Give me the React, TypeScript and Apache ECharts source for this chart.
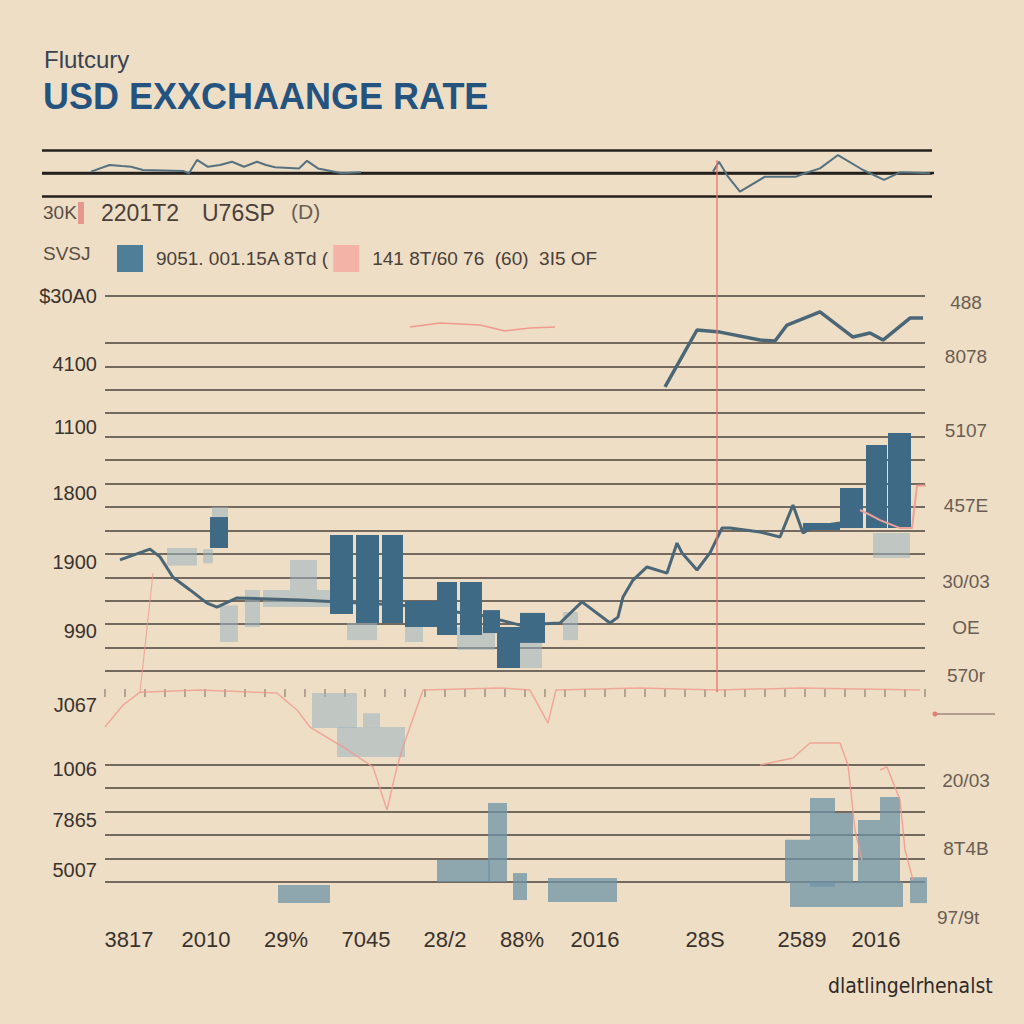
import React, { useEffect, useRef } from "react";
import * as echarts from "echarts";

// ---------- texts ----------
const titleSmall = "Flutcury";
const titleMain = "USD EXXCHAANGE RATE";
const row1Texts = ["30K", "2201T2", "U76SP", "(D)"];
const row2Prefix = "SVSJ";
const seriesNames = ["9051. 001.15A 8Td (", "141 8T/60 76  (60)  3I5 OF"];
const footerText = "dlatlingelrhenalst";
const extraRightLabel = "97/9t";

// ---------- axis ticks ----------
const leftTickValues = [25, 22.1, 19.4, 16.6, 13.65, 10.7, 7.55, 4.8, 2.65, 0.5];
const leftTickLabels = ["$30A0", "4100", "1100", "1800", "1900", "990", "J067", "1006", "7865", "5007"];
const rightTickValues = [24.74, 22.4, 19.28, 16.08, 12.8, 10.84, 8.79, 4.35, 1.45];
const rightTickLabels = ["488", "8078", "5107", "457E", "30/03", "OE", "570r", "20/03", "8T4B"];
const xTickValues = [2.4, 10.1, 18.1, 26.1, 34.0, 41.7, 49.0, 60.0, 69.7, 77.1];
const xTickLabels = ["3817", "2010", "29%", "7045", "28/2", "88%", "2016", "28S", "2589", "2016"];
const hiddenGridLevels = [6, 7, 8, 24];

// ---------- data : boxes [xStart, xEnd, low, high] ----------
const darkBoxes = [
  [10.5, 12.3, 14.25, 15.57],
  [22.5, 24.8, 11.43, 14.8],
  [25.1, 27.4, 11.05, 14.8],
  [27.7, 29.8, 11.05, 14.8],
  [30.0, 33.2, 10.88, 11.99],
  [33.2, 35.2, 10.54, 12.8],
  [35.5, 37.7, 10.54, 12.8],
  [37.8, 39.5, 10.62, 11.6],
  [39.2, 41.5, 9.13, 10.88],
  [41.5, 44.0, 10.2, 11.48],
  [69.8, 73.5, 15.02, 15.32],
  [73.5, 75.8, 15.1, 16.81],
  [76.1, 78.2, 15.1, 18.64],
  [78.3, 80.6, 15.1, 19.15],
];
const lightBoxes = [
  [6.2, 9.2, 13.5, 14.25],
  [9.8, 10.8, 13.6, 14.2],
  [10.7, 12.3, 15.57, 16.0],
  [11.5, 13.3, 10.24, 11.8],
  [14.0, 15.5, 10.88, 12.46],
  [15.8, 22.5, 11.73, 12.46],
  [18.5, 21.2, 12.46, 13.74],
  [24.2, 27.2, 10.32, 11.05],
  [30.0, 31.8, 10.24, 10.88],
  [35.2, 39.0, 9.9, 10.88],
  [41.5, 43.7, 9.13, 10.2],
  [45.8, 47.3, 10.32, 11.52],
  [76.8, 80.5, 13.82, 14.89],
  [20.7, 25.2, 6.57, 8.06],
  [23.2, 30.0, 5.33, 6.61],
  [25.8, 27.5, 6.6, 7.2],
];
const baseBoxes = [
  [38.3, 40.2, 0, 3.37],
  [33.2, 38.5, 0, 0.94],
  [40.8, 42.2, -0.77, 0.38],
  [44.3, 51.2, -0.85, 0.17],
  [17.3, 22.5, -0.9, -0.13],
  [68.0, 70.5, 0, 1.8],
  [70.5, 73.0, -0.2, 3.58],
  [73.0, 74.8, 0, 2.94],
  [75.3, 77.5, 0, 2.65],
  [77.5, 79.5, 0, 3.63],
  [68.5, 79.8, -1.07, 0],
  [80.5, 82.2, -0.9, 0.2],
];

// ---------- data : lines [x, y] ----------
const mainRate = [
  [1.5, 13.74], [4.5, 14.2], [5.5, 13.87], [6.8, 13.0], [8.5, 12.46], [10.2, 11.9], [11.2, 11.73],
  [13.2, 12.12], [19.5, 12.03], [29.5, 11.82], [37.5, 11.39], [41.5, 10.96], [45.5, 11.05],
  [47.7, 11.95], [50.5, 11.05], [51.3, 11.3], [51.8, 12.16], [52.8, 12.88], [54.2, 13.44],
  [56.2, 13.18], [57.2, 14.46], [57.7, 14.04], [59.2, 13.31], [60.5, 14.04], [61.7, 15.1],
  [62.5, 15.1], [65.5, 14.93], [67.5, 14.72], [68.8, 16.08], [69.8, 14.89], [70.8, 15.15], [73.5, 15.32],
];
const upperRate = [
  [56, 21.12], [59.2, 23.55], [61.5, 23.46], [65.5, 23.12], [67, 23.08], [68.2, 23.76],
  [71.5, 24.32], [74.8, 23.25], [76.5, 23.42], [77.8, 23.12], [80.5, 24.06], [81.8, 24.06],
];
const pinkTop = [[30.5, 23.68], [33.5, 23.85], [37.5, 23.76], [40, 23.51], [42.5, 23.63], [45, 23.68]];
const pinkMid = [
  [0, 6.61], [1.8, 7.55], [3.5, 8.1], [9.5, 8.19], [17.2, 8.06], [19.2, 7.34], [20.5, 6.61],
  [23.8, 5.76], [26.8, 4.91], [28.2, 3.07], [29.2, 4.91], [29.8, 5.76], [31.8, 8.19], [39.5, 8.28],
  [42.5, 8.19], [44.3, 6.78], [45.1, 8.19], [53.5, 8.28], [61.2, 8.19], [69.5, 8.28], [81.5, 8.19],
];
const pinkLeft = [[3.5, 8.1], [4.8, 13.18]];
const pinkLowA = [[65.5, 4.99], [68.8, 5.29], [70.5, 5.93], [73.5, 5.93], [74.3, 4.99], [75.0, 2.22], [75.7, 0.94]];
const pinkLowB = [[77.5, 4.78], [78.2, 4.91], [79.5, 3.5], [80.0, 1.37], [80.8, 0.09]];
const pinkStep = [[75.5, 15.87], [76.5, 15.66], [77.5, 15.44], [79.5, 15.1], [80.7, 15.1], [81.2, 16.9], [84.5, 16.95]];
const markerLine = [[61.2, 8.1], [61.2, 30.8]];

const miniLeft = [
  [4.9, 1.06], [6.76, 1.35], [8.0, 1.3], [8.9, 1.27], [10.1, 1.13], [14.1, 1.09], [14.7, 0.99],
  [15.5, 1.57], [16.6, 1.27], [17.8, 1.35], [19.0, 1.49], [20.2, 1.27], [21.5, 1.49], [22.4, 1.35],
  [23.3, 1.25], [25.7, 1.2], [26.5, 1.53], [27.6, 1.2], [30.0, 0.99], [31.9, 1.03],
];
const miniRight = [
  [67.1, 1.06], [67.7, 1.49], [68.6, 0.84], [69.8, 0.19], [72.3, 0.84], [75.4, 0.84], [76.3, 0.99],
  [77.8, 1.2], [79.6, 1.78], [82.1, 1.13], [84.2, 0.7], [85.8, 1.03], [88.8, 0.99],
];
const miniMidLine = [[0, 1], [93.5, 1]];

const SANS = "'Liberation Sans', Arial, sans-serif";
const NARROW = "'Liberation Sans Narrow', 'DejaVu Sans Condensed', 'Liberation Sans', sans-serif";
const BG = "#eedec6";

function lookup(values: number[], labels: string[]) {
  return (v: number) => {
    for (let i = 0; i < values.length; i++) {
      if (Math.abs(values[i] - v) < 1e-6) return labels[i];
    }
    return "";
  };
}

function boxRenderer(fill: string, opacity: number) {
  return (_params: any, api: any) => {
    const a = api.coord([api.value(0), api.value(3)]);
    const b = api.coord([api.value(1), api.value(2)]);
    return {
      type: "rect",
      shape: { x: a[0], y: a[1], width: b[0] - a[0], height: b[1] - a[1] },
      style: { fill, opacity },
    };
  };
}

function lineSeries(name: string, data: number[][], color: string, width: number, extra: any = {}) {
  return {
    name,
    type: "line",
    data,
    showSymbol: false,
    symbol: "none",
    silent: true,
    lineStyle: { color, width },
    itemStyle: { color },
    ...extra,
  };
}

export default function App() {
  const ref = useRef<HTMLDivElement>(null);

  useEffect(() => {
    document.body.style.margin = "0";
    document.body.style.background = BG;
    if (!ref.current) return;
    const chart = echarts.init(ref.current, null, { renderer: "svg" });

    const gridLineColors = Array.from({ length: 26 }, (_, i) =>
      hiddenGridLevels.includes(i) ? "rgba(0,0,0,0)" : "#4b423b"
    );

    const option: any = {
      animation: false,
      backgroundColor: BG,
      legend: {
        left: 112,
        top: 240,
        itemWidth: 26,
        itemHeight: 27,
        itemGap: 4,
        icon: "rect",
        selectedMode: false,
        data: [
          { name: seriesNames[0], itemStyle: { color: "#4f7f98" } },
          { name: seriesNames[1], itemStyle: { color: "#f3b4a7" } },
        ],
        textStyle: { fontSize: 19, color: "#4a4039", fontFamily: SANS, padding: [0, 0, 0, 8] },
      },
      graphic: [
        { type: "text", x: 44, y: 47, style: { text: titleSmall, fill: "#3b4350", font: `24px ${SANS}` } },
        { type: "text", x: 43, y: 78, style: { text: titleMain, fill: "#25537f", font: `bold 36px ${SANS}` } },
        { type: "text", x: 43, y: 203, style: { text: row1Texts[0], fill: "#5a4d44", font: `19px ${SANS}` } },
        { type: "rect", shape: { x: 78, y: 202, width: 6, height: 22 }, style: { fill: "#e5998c" } },
        { type: "text", x: 101, y: 201, style: { text: row1Texts[1], fill: "#4a4039", font: `23px ${SANS}` } },
        { type: "text", x: 202, y: 201, style: { text: row1Texts[2], fill: "#4a4039", font: `23px ${SANS}` } },
        { type: "text", x: 291, y: 201, style: { text: row1Texts[3], fill: "#6a5d53", font: `21px ${SANS}` } },
        { type: "text", x: 43, y: 244, style: { text: row2Prefix, fill: "#5a4d44", font: `19px ${SANS}` } },
        { type: "text", x: 937, y: 908, style: { text: extraRightLabel, fill: "#6a5d53", font: `19px ${SANS}` } },
        { type: "line", shape: { x1: 935, y1: 714, x2: 995, y2: 714 }, style: { stroke: "#b49c90", lineWidth: 2 } },
        { type: "circle", shape: { cx: 935, cy: 714, r: 2.5 }, style: { fill: "#e27d72" } },
        { type: "text", x: 828, y: 975, style: { text: footerText, fill: "#2f2a26", font: `21px ${NARROW}` } },
      ],
      grid: [
        { left: 105, right: 99, top: 296, bottom: 142 },
        { left: 42, right: 92, top: 150, height: 46 },
        { left: 105, right: 99, top: 690, height: 7 },
      ],
      xAxis: [
        {
          gridIndex: 0, type: "value", min: 0, max: 82,
          splitLine: { show: false }, axisLine: { show: false }, axisTick: { show: false },
          axisLabel: {
            customValues: xTickValues,
            formatter: lookup(xTickValues, xTickLabels),
            margin: 46, fontSize: 22, color: "#3a322c", fontFamily: SANS,
          },
        },
        { gridIndex: 1, type: "value", min: 0, max: 89, show: false },
        {
          gridIndex: 2, type: "value", min: 0, max: 82, interval: 2,
          axisLine: { show: false }, splitLine: { show: false }, axisLabel: { show: false },
          axisTick: { show: true, inside: true, length: 8, lineStyle: { color: "rgba(80,70,62,0.5)", width: 1.5 } },
        },
      ],
      yAxis: [
        {
          gridIndex: 0, type: "value", min: 0, max: 25, interval: 1,
          axisLine: { show: false }, axisTick: { show: false },
          splitLine: { show: true, lineStyle: { color: gridLineColors, width: 1.5 } },
          axisLabel: {
            customValues: leftTickValues,
            formatter: lookup(leftTickValues, leftTickLabels),
            margin: 8, fontSize: 20, color: "#3b332d", fontFamily: SANS,
          },
        },
        {
          gridIndex: 0, type: "value", position: "right", min: 0, max: 25,
          axisLine: { show: false }, axisTick: { show: false }, splitLine: { show: false },
          axisLabel: {
            customValues: rightTickValues,
            formatter: lookup(rightTickValues, rightTickLabels),
            margin: 41, align: "center", fontSize: 19, color: "#6a5d53", fontFamily: SANS,
          },
        },
        {
          gridIndex: 1, type: "value", min: 0, max: 2, interval: 1,
          axisLine: { show: false }, axisTick: { show: false }, axisLabel: { show: false },
          splitLine: { show: true, lineStyle: { color: "#24201d", width: 2.5 } },
        },
        { gridIndex: 2, type: "value", show: false },
      ],
      series: [
        {
          type: "custom", name: "light", renderItem: boxRenderer("#9bb3bd", 0.55), data: lightBoxes,
          encode: { x: [0, 1], y: [2, 3] }, xAxisIndex: 0, yAxisIndex: 0, silent: true, z: 2,
        },
        {
          type: "custom", name: "base", renderItem: boxRenderer("#6e93a6", 0.75), data: baseBoxes,
          encode: { x: [0, 1], y: [2, 3] }, xAxisIndex: 0, yAxisIndex: 0, silent: true, z: 2,
        },
        lineSeries(seriesNames[1], pinkMid, "rgba(240,150,138,0.75)", 1.5, { z: 3 }),
        lineSeries("pinkTop", pinkTop, "#f09a8e", 1.5, { z: 3 }),
        lineSeries("pinkLeft", pinkLeft, "rgba(240,150,138,0.7)", 1.2, { z: 3 }),
        lineSeries("pinkLowA", pinkLowA, "rgba(240,150,138,0.8)", 1.5, { z: 3 }),
        lineSeries("pinkLowB", pinkLowB, "rgba(240,150,138,0.8)", 1.5, { z: 3 }),
        lineSeries("mainRate", mainRate, "#4b6777", 3, { z: 4 }),
        {
          type: "custom", name: seriesNames[0], renderItem: boxRenderer("#3f6a86", 1), data: darkBoxes,
          encode: { x: [0, 1], y: [2, 3] }, xAxisIndex: 0, yAxisIndex: 0, silent: true, z: 5,
          itemStyle: { color: "#3f6a86" },
        },
        lineSeries("pinkStep", pinkStep, "#f0a196", 2, { z: 6, clip: false }),
        lineSeries("upperRate", upperRate, "#4b6777", 3.5, { z: 6 }),
        lineSeries("marker", markerLine, "#e8766a", 1.3, { z: 7, clip: false }),
        lineSeries("miniMid", miniMidLine, "#24201d", 2.5, { xAxisIndex: 1, yAxisIndex: 2, clip: false, z: 3 }),
        lineSeries("miniLeft", miniLeft, "#55717f", 2, { xAxisIndex: 1, yAxisIndex: 2, z: 4 }),
        lineSeries("miniRight", miniRight, "#55717f", 2, { xAxisIndex: 1, yAxisIndex: 2, z: 4 }),
      ],
    };

    chart.setOption(option);
    return () => chart.dispose();
  }, []);

  return <div ref={ref} style={{ width: 1024, height: 1024, background: BG }} />;
}
